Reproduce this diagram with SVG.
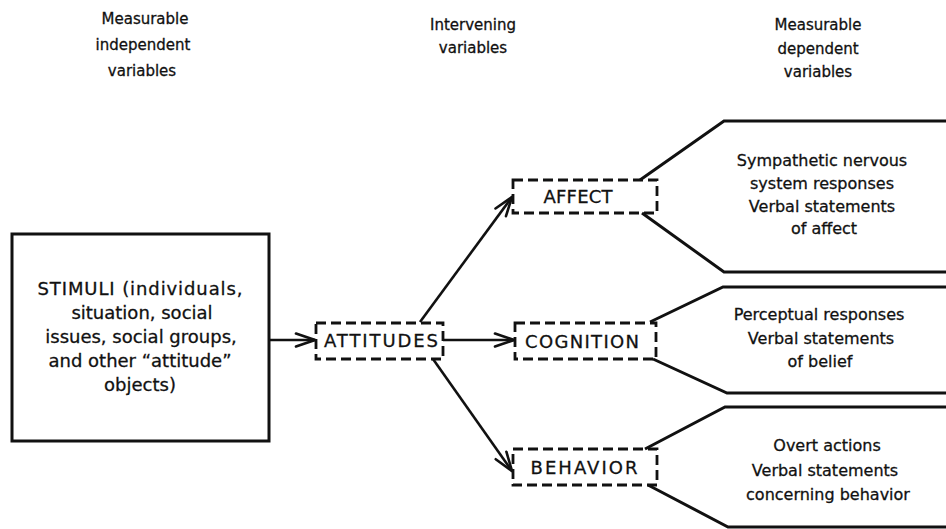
<svg xmlns="http://www.w3.org/2000/svg" width="946" height="529" viewBox="0 0 946 529">
  <defs>
    <marker id="arrow" markerUnits="userSpaceOnUse" markerWidth="24" markerHeight="16" viewBox="-22 -8 24 16" refX="0" refY="0" orient="auto">
      <path d="M-19,-6.5 L0,0 L-19,6.5" fill="none" stroke="#111" stroke-width="2.6" stroke-linejoin="miter" stroke-linecap="round"/>
    </marker>
    <style>
      text { font-family: "DejaVu Sans", "Liberation Sans", sans-serif; fill: #111; stroke: #111; stroke-width: 0.3; text-anchor: middle; }
      .hdr { font-size: 15px; }
      .stim { font-size: 18px; }
      .lbl { font-size: 18px; }
      .resp { font-size: 16px; }
      .solid { fill: none; stroke: #111; stroke-width: 3; }
      .dash { fill: #fff; stroke: #111; stroke-width: 2.8; stroke-dasharray: 10 5; }
      .edge { fill: none; stroke: #111; stroke-width: 2.6; }
    </style>
  </defs>

  <rect width="946" height="529" fill="#fff"/>

  <!-- column headings -->
  <g id="head-independent">
    <text class="hdr" x="145" y="24">Measurable</text>
    <text class="hdr" x="143" y="50">independent</text>
    <text class="hdr" x="142" y="76">variables</text>
  </g>
  <g id="head-intervening">
    <text class="hdr" x="473" y="30">Intervening</text>
    <text class="hdr" x="473" y="53">variables</text>
  </g>
  <g id="head-dependent">
    <text class="hdr" x="818" y="30">Measurable</text>
    <text class="hdr" x="818" y="54">dependent</text>
    <text class="hdr" x="818" y="77">variables</text>
  </g>

  <!-- connectors -->
  <g id="connectors">
    <line class="edge" x1="269" y1="340" x2="315" y2="340" marker-end="url(#arrow)"/>
    <line class="edge" x1="443" y1="340" x2="514" y2="340" marker-end="url(#arrow)"/>
    <line class="edge" x1="420" y1="322" x2="512" y2="197" marker-end="url(#arrow)"/>
    <line class="edge" x1="433" y1="359" x2="512" y2="471" marker-end="url(#arrow)"/>
  </g>

  <!-- stimuli -->
  <g id="stimuli">
    <rect class="solid" x="12" y="234" width="257" height="207"/>
    <text class="stim" x="140" y="295" textLength="205">STIMULI  (individuals,</text>
    <text class="stim" x="142" y="319">situation, social</text>
    <text class="stim" x="141" y="343">issues, social groups,</text>
    <text class="stim" x="140" y="367">and other “attitude”</text>
    <text class="stim" x="140" y="391">objects)</text>
  </g>

  <!-- intervening variables -->
  <g id="attitudes">
    <rect class="dash" x="316" y="323" width="127" height="36"/>
    <text class="lbl" x="381" y="347" textLength="114">ATTITUDES</text>
  </g>
  <g id="affect">
    <rect class="dash" x="513" y="180" width="144" height="33"/>
    <text class="lbl" x="578" y="203" textLength="69">AFFECT</text>
  </g>
  <g id="cognition">
    <rect class="dash" x="515" y="323" width="141" height="36"/>
    <text class="lbl" x="582" y="348" textLength="114">COGNITION</text>
  </g>
  <g id="behavior">
    <rect class="dash" x="513" y="449" width="144" height="36"/>
    <text class="lbl" x="584" y="474" textLength="107">BEHAVIOR</text>
  </g>

  <!-- dependent variable panels -->
  <g id="affect-measures">
    <path class="solid" d="M946,121 L724,121 L640,180"/>
    <path class="solid" d="M642,213 L724,272 L946,272"/>
    <text class="resp" x="822" y="166">Sympathetic nervous</text>
    <text class="resp" x="822" y="189">system responses</text>
    <text class="resp" x="822" y="212">Verbal statements</text>
    <text class="resp" x="824" y="234">of affect</text>
  </g>
  <g id="cognition-measures">
    <path class="solid" d="M946,287 L723,287 L650,322"/>
    <path class="solid" d="M653,359 L727,393 L946,393"/>
    <text class="resp" x="819" y="320">Perceptual responses</text>
    <text class="resp" x="821" y="344">Verbal statements</text>
    <text class="resp" x="820" y="367">of belief</text>
  </g>
  <g id="behavior-measures">
    <path class="solid" d="M946,407 L725,407 L645,449"/>
    <path class="solid" d="M648,485 L728,527 L946,527"/>
    <text class="resp" x="827" y="451">Overt actions</text>
    <text class="resp" x="825" y="476">Verbal statements</text>
    <text class="resp" x="828" y="500">concerning behavior</text>
  </g>
</svg>
